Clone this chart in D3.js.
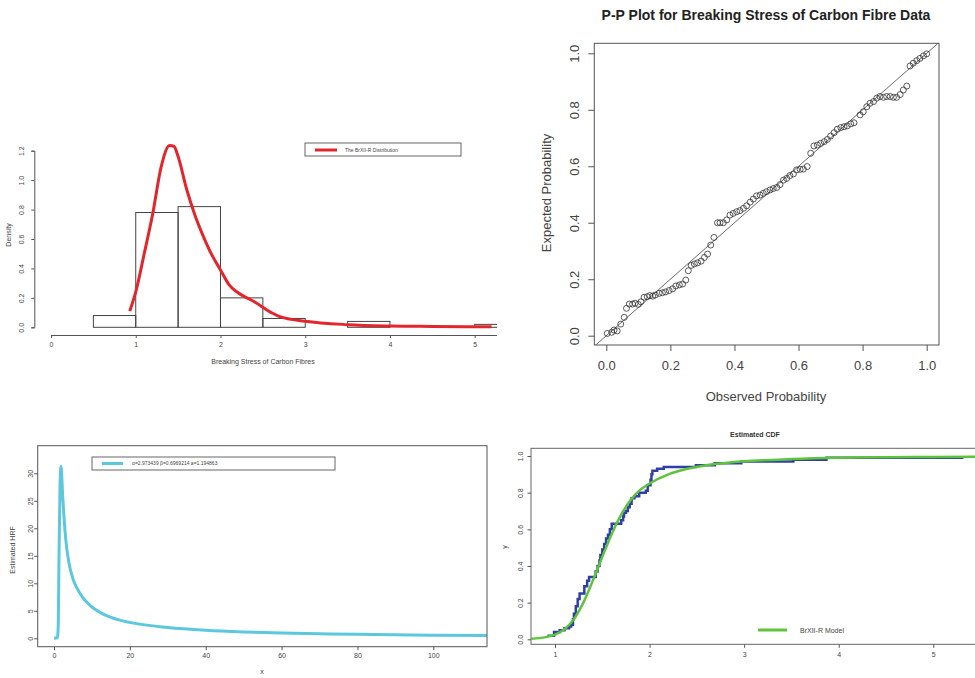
<!DOCTYPE html>
<html>
<head>
<meta charset="utf-8">
<script src="https://cdn.jsdelivr.net/npm/d3@7"></script>
<style>
  body { margin: 0; background: #fff; }
  svg { font-family: "Liberation Sans", Arial, sans-serif; }
</style>
</head>
<body>
<script>
// ---- data ----
// histogram of breaking stress (density, bin width 0.5)
const binStart = [0.5, 1, 1.5, 2, 2.5, 3, 3.5, 4, 4.5, 5];
const binDensity = [0.08, 0.78, 0.82, 0.20, 0.06, 0, 0.04, 0, 0, 0.02];
// fitted density curve
const pdfX = [0.93, 1.0, 1.1, 1.2, 1.3, 1.4, 1.45, 1.5, 1.6, 1.7, 1.8, 1.9, 2.0, 2.1, 2.2, 2.4, 2.6, 2.7, 3.0, 3.5, 4.0, 4.5, 5.2];
const pdfY = [0.11, 0.24, 0.50, 0.77, 1.09, 1.235, 1.23, 1.16, 0.94, 0.76, 0.615, 0.49, 0.39, 0.29, 0.238, 0.174, 0.10, 0.072, 0.041, 0.018, 0.009, 0.006, 0.003];

// P-P plot
const ppObs = [0.003, 0.017, 0.024, 0.034, 0.045, 0.056, 0.063, 0.072, 0.082, 0.09, 0.10, 0.108, 0.118, 0.128, 0.136, 0.145, 0.153, 0.165, 0.175, 0.185,
  0.196, 0.207, 0.217, 0.228, 0.238, 0.248, 0.256, 0.265, 0.275, 0.285, 0.296, 0.306, 0.316, 0.326, 0.336, 0.347, 0.355, 0.365, 0.376, 0.386,
  0.396, 0.407, 0.417, 0.428, 0.438, 0.449, 0.459, 0.469, 0.48, 0.49, 0.50, 0.511, 0.521, 0.532, 0.542, 0.553, 0.563, 0.573, 0.584, 0.594,
  0.605, 0.615, 0.627, 0.638, 0.648, 0.659, 0.669, 0.68, 0.69, 0.70, 0.711, 0.721, 0.732, 0.742, 0.752, 0.763, 0.773, 0.792, 0.802, 0.813,
  0.823, 0.834, 0.844, 0.854, 0.865, 0.875, 0.886, 0.896, 0.906, 0.917, 0.927, 0.938, 0.948, 0.958, 0.969, 0.979, 0.99, 1.0];
const ppExp = [0.008, 0.012, 0.020, 0.017, 0.041, 0.065, 0.097, 0.112, 0.112, 0.115, 0.111, 0.12, 0.136, 0.138, 0.142, 0.14, 0.144, 0.15, 0.152, 0.155,
  0.16, 0.166, 0.176, 0.18, 0.183, 0.197, 0.23, 0.249, 0.254, 0.258, 0.264, 0.277, 0.289, 0.321, 0.348, 0.40, 0.40, 0.40, 0.41, 0.427,
  0.433, 0.439, 0.443, 0.451, 0.46, 0.473, 0.484, 0.495, 0.498, 0.504, 0.51, 0.516, 0.521, 0.525, 0.535, 0.551, 0.557, 0.567, 0.573, 0.587,
  0.589, 0.59, 0.599, 0.646, 0.672, 0.675, 0.681, 0.687, 0.695, 0.707, 0.719, 0.731, 0.737, 0.74, 0.743, 0.75, 0.754, 0.782, 0.793, 0.811,
  0.823, 0.829, 0.841, 0.847, 0.844, 0.847, 0.847, 0.844, 0.844, 0.854, 0.87, 0.884, 0.955, 0.965, 0.974, 0.982, 0.991, 0.998];

// estimated hazard rate
const hrfX = [0, 0.88, 1.0, 1.14, 1.32, 1.58, 1.85, 2.28, 2.64, 3.1, 4.0, 5.1, 6.0, 7.7, 9.5, 13, 17.4, 20, 25, 30, 40, 50, 60, 70, 80, 90, 100, 115];
const hrfY = [0, 0.1, 0.6, 3, 15, 27.3, 31.3, 26, 22, 18, 13.5, 10.6, 9.2, 7.3, 6.0, 4.4, 3.3, 2.9, 2.35, 1.95, 1.45, 1.15, 0.95, 0.82, 0.72, 0.64, 0.57, 0.5];
const hrfLegend = "α=2.973439  β=0.6969214  a=1.194863";

// empirical CDF steps (x where the step happens, level after it)
const ecdfX = [0.92, 0.99, 1.05, 1.10, 1.15, 1.17, 1.19, 1.20, 1.22, 1.24, 1.26, 1.31, 1.34, 1.36, 1.43, 1.45, 1.47, 1.48, 1.50, 1.52, 1.54, 1.56, 1.58, 1.60,
  1.70, 1.72, 1.73, 1.75, 1.77, 1.79, 1.81, 1.84, 1.89, 1.96, 1.98, 2.01, 2.02, 2.03, 2.08, 2.15, 2.49, 2.69, 2.97, 3.52, 3.87, 5.32];
const ecdfY = [0.02, 0.04, 0.05, 0.06, 0.07, 0.08, 0.11, 0.14, 0.18, 0.22, 0.25, 0.29, 0.32, 0.34, 0.37, 0.40, 0.43, 0.46, 0.49, 0.52, 0.55, 0.57, 0.60, 0.63,
  0.65, 0.67, 0.69, 0.70, 0.72, 0.74, 0.77, 0.78, 0.80, 0.81, 0.84, 0.87, 0.90, 0.92, 0.93, 0.94, 0.95, 0.96, 0.97, 0.98, 0.99, 0.99];
// fitted CDF
const cdfX = [0.75, 0.9, 1.0, 1.1, 1.2, 1.3, 1.4, 1.5, 1.6, 1.7, 1.8, 1.9, 2.0, 2.2, 2.4, 2.6, 2.8, 3.0, 3.5, 4.0, 4.5, 5.0, 5.6];
const cdfY = [0.003, 0.012, 0.026, 0.055, 0.11, 0.2, 0.32, 0.45, 0.575, 0.68, 0.76, 0.815, 0.85, 0.9, 0.93, 0.95, 0.962, 0.971, 0.983, 0.99, 0.993, 0.995, 0.997];

// ---- canvas ----
const w = 975, h = 678;
const svg = d3.select('body').append('svg').attr('width', w).attr('height', h);

const axisCol = '#555', textCol = '#444';

function styleAxis(g, fs) {
  g.selectAll('line').attr('stroke', axisCol);
  g.selectAll('path').attr('stroke', axisCol);
  g.selectAll('text').attr('font-size', fs).attr('fill', textCol).attr('font-family', null);
}
// R draws y tick labels parallel to the axis
function rotateY(g, off) {
  g.selectAll('.tick text')
    .attr('transform', 'rotate(-90)')
    .attr('x', 0).attr('y', -off).attr('dy', 0)
    .attr('text-anchor', 'middle');
}

// ================= panel 1 : histogram + density =================
{
  const x = d3.scaleLinear().domain([0, 5]).range([51, 474.7]);
  const y = d3.scaleLinear().domain([0, 1.2]).range([327.3, 150.7]);
  const xAxisScale = d3.scaleLinear().domain([0, 6]).range([x(0), x(6)]);

  svg.append('clipPath').attr('id', 'clip1')
    .append('rect').attr('x', 0).attr('y', 0).attr('width', 497).attr('height', 420);
  const g = svg.append('g').attr('clip-path', 'url(#clip1)');

  g.selectAll('rect.bar')
    .data(binStart)
    .enter()
    .append('rect')
    .attr('class', 'bar')
    .attr('x', d => x(d))
    .attr('y', (d, i) => y(binDensity[i]))
    .attr('width', x(0.5) - x(0))
    .attr('height', (d, i) => y(0) - y(binDensity[i]))
    .attr('fill', 'none')
    .attr('stroke', '#444')
    .attr('stroke-width', 1);

  const line = d3.line().x((d, i) => x(pdfX[i])).y(d => y(d)).curve(d3.curveMonotoneX);
  g.append('path').attr('d', line(pdfY))
    .attr('fill', 'none').attr('stroke', '#e3262b').attr('stroke-width', 3);

  const xa = g.append('g').attr('transform', 'translate(0,335)')
    .call(d3.axisBottom(xAxisScale).ticks(6).tickSizeOuter(0).tickSize(3).tickPadding(4).tickFormat(d3.format('d')));
  styleAxis(xa, 7);

  const ya = svg.append('g').attr('transform', 'translate(34.3,0)')
    .call(d3.axisLeft(y).tickValues([0, 0.2, 0.4, 0.6, 0.8, 1.0, 1.2]).tickSizeOuter(0).tickSize(3).tickFormat(d3.format('.1f')));
  styleAxis(ya, 7);
  rotateY(ya, 10);

  svg.append('text').attr('x', 263).attr('y', 364).attr('text-anchor', 'middle')
    .attr('font-size', 7).attr('fill', textCol).text('Breaking Stress of Carbon Fibres');
  svg.append('text').attr('transform', 'translate(11,235) rotate(-90)').attr('text-anchor', 'middle')
    .attr('font-size', 7).attr('fill', textCol).text('Density');

  // legend
  svg.append('rect').attr('x', 305).attr('y', 143).attr('width', 156).attr('height', 13)
    .attr('fill', 'none').attr('stroke', '#666').attr('stroke-width', 1);
  svg.append('line').attr('x1', 315).attr('x2', 337).attr('y1', 150).attr('y2', 150)
    .attr('stroke', '#e3262b').attr('stroke-width', 3);
  svg.append('text').attr('x', 345).attr('y', 151.8).attr('font-size', 5).attr('fill', textCol)
    .text('The BrXII-R Distribution');
}

// ================= panel 2 : P-P plot =================
{
  const box = {l: 594.3, r: 939, t: 43.3, b: 345};
  const x = d3.scaleLinear().domain([0, 1]).range([606.3, 926.7]);
  const y = d3.scaleLinear().domain([0, 1]).range([335.7, 53.3]);

  svg.append('clipPath').attr('id', 'clip2')
    .append('rect').attr('x', box.l).attr('y', box.t).attr('width', box.r - box.l).attr('height', box.b - box.t);

  svg.append('text').attr('x', 766).attr('y', 20).attr('text-anchor', 'middle')
    .attr('font-size', 14).attr('font-weight', 'bold').attr('fill', '#222')
    .text('P-P Plot for Breaking Stress of Carbon Fibre Data');

  // y = x reference line
  const lo = x.invert(box.l) - 0.1, hi = x.invert(box.r) + 0.1;
  svg.append('line').attr('clip-path', 'url(#clip2)')
    .attr('x1', x(lo)).attr('y1', y(lo)).attr('x2', x(hi)).attr('y2', y(hi))
    .attr('stroke', '#444').attr('stroke-width', 0.8);

  svg.append('g').selectAll('circle')
    .data(ppObs)
    .enter()
    .append('circle')
    .attr('cx', d => x(d))
    .attr('cy', (d, i) => y(ppExp[i]))
    .attr('r', 3)
    .attr('fill', 'none')
    .attr('stroke', '#333')
    .attr('stroke-width', 0.8);

  svg.append('rect').attr('x', box.l).attr('y', box.t).attr('width', box.r - box.l).attr('height', box.b - box.t)
    .attr('fill', 'none').attr('stroke', '#555').attr('stroke-width', 1);

  const ticks = [0, 0.2, 0.4, 0.6, 0.8, 1.0];
  const xa = svg.append('g').attr('transform', `translate(0,${box.b})`)
    .call(d3.axisBottom(x).tickValues(ticks).tickSize(6).tickPadding(10).tickFormat(d3.format('.1f')));
  styleAxis(xa, 13);
  xa.select('.domain').remove();
  const ya = svg.append('g').attr('transform', `translate(${box.l},0)`)
    .call(d3.axisLeft(y).tickValues(ticks).tickSize(6).tickFormat(d3.format('.1f')));
  styleAxis(ya, 13);
  ya.select('.domain').remove();
  rotateY(ya, 15.5);

  svg.append('text').attr('x', 766).attr('y', 401).attr('text-anchor', 'middle')
    .attr('font-size', 13).attr('fill', textCol).text('Observed Probability');
  svg.append('text').attr('transform', 'translate(551,193) rotate(-90)').attr('text-anchor', 'middle')
    .attr('font-size', 13).attr('fill', textCol).text('Expected Probability');
}

// ================= panel 3 : hazard rate =================
{
  const box = {l: 37.7, r: 487, t: 445.7, b: 646.7};
  const x = d3.scaleLinear().domain([0, 100]).range([54, 433.3]);
  const y = d3.scaleLinear().domain([0, 30]).range([638.3, 473.3]);

  svg.append('clipPath').attr('id', 'clip3')
    .append('rect').attr('x', box.l).attr('y', box.t).attr('width', box.r - box.l).attr('height', box.b - box.t);

  const line = d3.line().x((d, i) => x(hrfX[i])).y(d => y(d)).curve(d3.curveMonotoneX);
  svg.append('path').attr('clip-path', 'url(#clip3)').attr('d', line(hrfY))
    .attr('fill', 'none').attr('stroke', '#5bc8dc').attr('stroke-width', 3);

  svg.append('rect').attr('x', box.l).attr('y', box.t).attr('width', box.r - box.l).attr('height', box.b - box.t)
    .attr('fill', 'none').attr('stroke', '#555').attr('stroke-width', 1);

  const xa = svg.append('g').attr('transform', `translate(0,${box.b})`)
    .call(d3.axisBottom(x).tickValues([0, 20, 40, 60, 80, 100]).tickSize(3.5).tickPadding(3));
  styleAxis(xa, 7);
  xa.select('.domain').remove();
  const ya = svg.append('g').attr('transform', `translate(${box.l},0)`)
    .call(d3.axisLeft(y).tickValues([0, 5, 10, 15, 20, 25, 30]).tickSize(3.5));
  styleAxis(ya, 7);
  ya.select('.domain').remove();
  rotateY(ya, 5);

  svg.append('text').attr('x', 262).attr('y', 674).attr('text-anchor', 'middle')
    .attr('font-size', 7).attr('fill', textCol).text('x');
  svg.append('text').attr('transform', 'translate(15,550) rotate(-90)').attr('text-anchor', 'middle')
    .attr('font-size', 7).attr('fill', textCol).text('Estimated HRF');

  // legend
  svg.append('rect').attr('x', 92).attr('y', 457).attr('width', 243).attr('height', 13)
    .attr('fill', 'none').attr('stroke', '#666').attr('stroke-width', 1);
  svg.append('line').attr('x1', 102).attr('x2', 123).attr('y1', 463.5).attr('y2', 463.5)
    .attr('stroke', '#5bc8dc').attr('stroke-width', 3);
  svg.append('text').attr('x', 132).attr('y', 465.3).attr('font-size', 5).attr('fill', textCol)
    .text(hrfLegend);
}

// ================= panel 4 : estimated CDF =================
{
  const box = {l: 531, r: 990, t: 448.3, b: 644.3};
  const x = d3.scaleLinear().domain([1, 5]).range([555, 933.3]);
  const y = d3.scaleLinear().domain([0, 1]).range([639.3, 456]);

  svg.append('clipPath').attr('id', 'clip4')
    .append('rect').attr('x', box.l).attr('y', box.t).attr('width', box.r - box.l).attr('height', box.b - box.t);

  svg.append('text').attr('x', 755).attr('y', 436.5).attr('text-anchor', 'middle')
    .attr('font-size', 7).attr('font-weight', 'bold').attr('fill', '#333').text('Estimated CDF');

  const step = d3.line().x((d, i) => x(ecdfX[i])).y(d => y(d)).curve(d3.curveStepAfter);
  svg.append('path').attr('clip-path', 'url(#clip4)').attr('d', step(ecdfY))
    .attr('fill', 'none').attr('stroke', '#2f3fa6').attr('stroke-width', 2.5);

  const smooth = d3.line().x((d, i) => x(cdfX[i])).y(d => y(d)).curve(d3.curveMonotoneX);
  svg.append('path').attr('clip-path', 'url(#clip4)').attr('d', smooth(cdfY))
    .attr('fill', 'none').attr('stroke', '#5ec43c').attr('stroke-width', 2.5);

  svg.append('rect').attr('x', box.l).attr('y', box.t).attr('width', box.r - box.l).attr('height', box.b - box.t)
    .attr('fill', 'none').attr('stroke', '#666').attr('stroke-width', 1);

  const xa = svg.append('g').attr('transform', `translate(0,${box.b})`)
    .call(d3.axisBottom(x).tickValues([1, 2, 3, 4, 5]).tickSize(3.5).tickPadding(4).tickFormat(d3.format('d')));
  styleAxis(xa, 7);
  xa.select('.domain').remove();
  const ya = svg.append('g').attr('transform', `translate(${box.l},0)`)
    .call(d3.axisLeft(y).tickValues([0, 0.2, 0.4, 0.6, 0.8, 1.0]).tickSize(3.5).tickFormat(d3.format('.1f')));
  styleAxis(ya, 7);
  ya.select('.domain').remove();
  rotateY(ya, 8);

  svg.append('text').attr('transform', 'translate(507,547) rotate(-90)').attr('text-anchor', 'middle')
    .attr('font-size', 7).attr('fill', textCol).text('y');

  // legend (no box)
  svg.append('line').attr('x1', 758).attr('x2', 787).attr('y1', 630).attr('y2', 630)
    .attr('stroke', '#5ec43c').attr('stroke-width', 3);
  svg.append('text').attr('x', 800).attr('y', 632.5).attr('font-size', 7).attr('fill', textCol)
    .text('BrXII-R Model');
}
</script>
</body>
</html>
